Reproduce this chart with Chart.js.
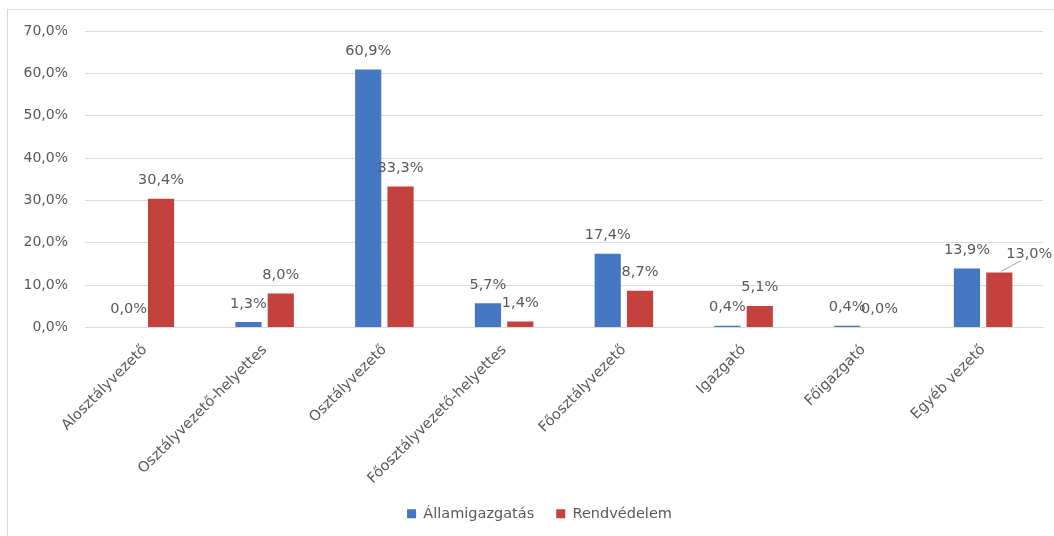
<!DOCTYPE html>
<html>
<head>
<meta charset="utf-8">
<script src="https://cdn.jsdelivr.net/npm/chart.js@4"></script>
<style>
  html, body { margin: 0; padding: 0; background: #fff; }
  #wrap { position: relative; width: 1054px; height: 536px; }
  #frame {
    position: absolute; left: 7px; top: 9px; width: 1060px; height: 540px;
    border: 1px solid #d9d9d9; box-sizing: border-box;
  }
  canvas { position: absolute; left: 0; top: 0; }
</style>
</head>
<body>
<div id="wrap">
  <div id="frame"></div>
  <canvas id="chart" width="1054" height="536"></canvas>
</div>
<script>
// Vezetői beosztások megoszlása

const categories = [
  "Alosztályvezető",
  "Osztályvezető-helyettes",
  "Osztályvezető",
  "Főosztályvezető-helyettes",
  "Főosztályvezető",
  "Igazgató",
  "Főigazgató",
  "Egyéb vezető"
];

const allamigazgatas = [0.0, 1.3, 60.9, 5.7, 17.4, 0.4, 0.4, 13.9];
const rendvedelem = [30.4, 8.0, 33.3, 1.4, 8.7, 5.1, 0.0, 13.0];

const yTicks = [0, 10, 20, 30, 40, 50, 60, 70];

const fmt = v => v.toFixed(1).replace(".", ",") + "%";

const textColor = "#595959";
const fontFamily = "'DejaVu Sans', sans-serif";

// Value labels above each bar
const valueLabels = {
  id: "valueLabels",
  afterDatasetsDraw(chart) {
    const ctx = chart.ctx;
    ctx.save();
    ctx.font = "14.5px " + fontFamily;
    ctx.fillStyle = textColor;
    ctx.textAlign = "center";
    ctx.textBaseline = "bottom";
    chart.data.datasets.forEach((ds, di) => {
      const meta = chart.getDatasetMeta(di);
      meta.data.forEach((bar, i) => {
        let x = bar.x;
        const y = bar.y - 11;
        // last red label is pushed to the right, with a leader line
        if (di === 1 && i === ds.data.length - 1) {
          ctx.strokeStyle = "#a6a6a6";
          ctx.lineWidth = 1;
          ctx.beginPath();
          ctx.moveTo(bar.x + 2, bar.y - 1);
          ctx.lineTo(bar.x + 22, bar.y - 12);
          ctx.stroke();
          x += 30;
        }
        ctx.fillText(fmt(ds.data[i]), x, y);
      });
    });
    ctx.restore();
  }
};

// centre the legend a bit further right, under the plot
const legendShift = {
  id: "legendShift",
  afterLayout(chart) {
    chart.legend.left += 36;
  }
};

new Chart(document.getElementById("chart"), {
  type: "bar",
  data: {
    labels: categories,
    datasets: [
      {
        label: "Államigazgatás",
        data: allamigazgatas,
        backgroundColor: "#4677c3",
        categoryPercentage: 0.54,
        barPercentage: 0.81
      },
      {
        label: "Rendvédelem",
        data: rendvedelem,
        backgroundColor: "#c4423e",
        categoryPercentage: 0.54,
        barPercentage: 0.81
      }
    ]
  },
  options: {
    responsive: false,
    animation: false,
    layout: {
      padding: { top: 31, right: 11, bottom: 5, left: 0 }
    },
    plugins: {
      legend: {
        position: "bottom",
        labels: {
          color: textColor,
          font: { family: fontFamily, size: 14.5 },
          boxWidth: 9,
          boxHeight: 9,
          padding: 22
        }
      },
      tooltip: { enabled: false }
    },
    scales: {
      x: {
        grid: { display: false },
        border: { color: "#d9d9d9" },
        ticks: {
          color: textColor,
          font: { family: fontFamily, size: 14.5 },
          padding: 6,
          minRotation: 45,
          maxRotation: 45,
          autoSkip: false
        },
        afterFit: s => { s.height = 157; }
      },
      y: {
        min: 0,
        max: 70,
        afterBuildTicks: s => { s.ticks = yTicks.map(v => ({ value: v })); },
        grid: { color: "#d9d9d9", lineWidth: 1, drawTicks: false },
        border: { display: false },
        ticks: {
          color: textColor,
          font: { family: fontFamily, size: 14 },
          padding: 17,
          callback: v => fmt(v)
        },
        afterFit: s => { s.width = 85; }
      }
    }
  },
  plugins: [valueLabels, legendShift]
});
</script>
</body>
</html>
